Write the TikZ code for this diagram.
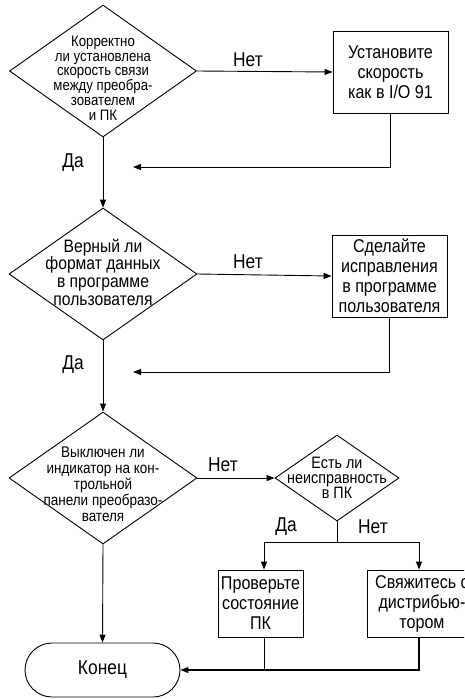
\documentclass[tikz,border=0pt]{standalone}
\usepackage{fontspec}
\setmainfont{Liberation Sans}[FakeStretch=0.87]
\usetikzlibrary{shapes.geometric,arrows.meta}
\tikzset{
  dia/.style={draw, shape=diamond, inner sep=0pt, line width=0.9pt},
  dtext/.style={align=center, inner sep=0pt},
  box/.style={draw, rectangle, line width=0.9pt, align=center, inner sep=0pt,
              font=\fontsize{18.5}{20}\selectfont},
  term/.style={draw, rectangle, rounded corners=27pt, line width=0.9pt,
               minimum width=155pt, minimum height=54pt, font=\fontsize{20}{22}\selectfont},
  lbl/.style={font=\fontsize{20}{22}\selectfont, inner sep=0pt},
  conn/.style={line width=0.9pt},
  arr/.style={conn, -{Triangle[length=8pt,width=6pt]}},
}
\begin{document}
\begin{tikzpicture}[x=1pt,y=-1pt]
\clip (0,0) rectangle (464,699);
\fill[white] (0,0) rectangle (464,699);
% block 1
\node[dia, minimum width=187pt, minimum height=132pt] (d1) at (103,71) {};
\node[dtext, font=\fontsize{15.2}{14.8}\selectfont] (t1) at (103,78) {Корректно\\ли установлена\\скорость связи\\между преобра-\\зователем\\и ПК};
\node[box, minimum width=115pt, minimum height=82pt] (b1) at (390.5,72) {Установите\\скорость\\как в I/O 91};
\draw[arr] (d1.east) -- (b1.west);
\node[lbl] (n1) at (248,60) {Нет};
\coordinate (r1) at (390.5,167);
\coordinate (r1e) at (133,167);
\draw[arr] (b1.south) -- (r1) -- (r1e);
\node[lbl] (y1) at (73,163) {Да};
% block 2
\node[dia, minimum width=188pt, minimum height=132pt] (d2) at (103,274) {};
\node[dtext, font=\fontsize{18}{17.7}\selectfont] (t2) at (103,272) {Верный ли\\формат данных\\в программе\\пользователя};
\draw[arr] (d1.south) -- (d2.north);
\node[box, minimum width=115pt, minimum height=82pt] (b2) at (389.5,276) {Сделайте\\исправления\\в программе\\пользователя};
\draw[arr] (d2.east) -- (b2.west);
\node[lbl] (n2) at (248,262) {Нет};
\coordinate (r2) at (389.5,372);
\coordinate (r2e) at (133,372);
\draw[arr] (b2.south) -- (r2) -- (r2e);
\node[lbl] (y2) at (73,365) {Да};
% block 3
\node[dia, minimum width=188pt, minimum height=132pt] (d3) at (103,478) {};
\node[dtext, font=\fontsize{15.5}{16}\selectfont] (t3) at (103,484) {Выключен ли\\индикатор на кон-\\трольной\\панели преобразо-\\вателя};
\draw[arr] (d2.south) -- (d3.north);
\node[dia, minimum width=124pt, minimum height=86pt] (d4) at (337,478) {};
\node[dtext, font=\fontsize{16.5}{15}\selectfont] (t4) at (337,478) {Есть ли\\неисправность\\в ПК};
\draw[arr] (d3.east) -- (d4.west);
\node[lbl] (n3) at (223,465) {Нет};
\node[box, minimum width=85pt, minimum height=67pt] (b3) at (260.5,603.5) {Проверьте\\состояние\\ПК};
\node[box, minimum width=110pt, minimum height=67pt] (b4) at (422,603.5) {Свяжитесь с\\дистрибью-\\тором};
\coordinate (s4) at (337,542);
\coordinate (sl) at (264,542);
\coordinate (sr) at (419,542);
\draw[conn] (d4.south) -- (s4);
\draw[arr] (s4) -- (sl) -- (sl |- b3.north);
\draw[arr] (s4) -- (sr) -- (sr |- b4.north);
\node[lbl] (y3) at (286,527) {Да};
\node[lbl] (n4) at (373,527) {Нет};
\node[term] (end) at (102.5,670) {Конец};
\draw[arr] (d3.south) -- (end.north);
\coordinate (m3) at (264,670);
\coordinate (m4) at (419,670);
\draw[conn] (sl |- b3.south) -- (m3);
\draw[arr, line width=1.3pt] (sr |- b4.south) -- (m4) -- (end.east);
\end{tikzpicture}
\end{document}
